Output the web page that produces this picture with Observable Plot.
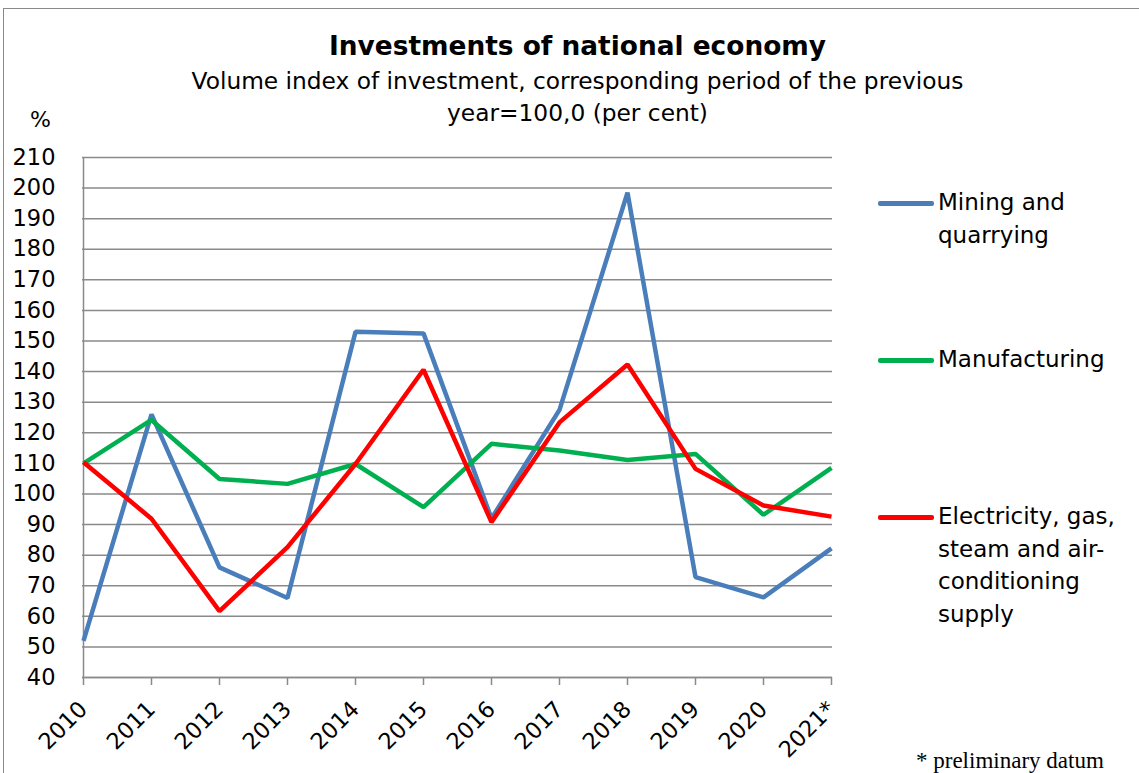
<!DOCTYPE html>
<html>
<head>
<meta charset="utf-8">
<script src="https://cdn.jsdelivr.net/npm/d3@7"></script>
<script src="https://cdn.jsdelivr.net/npm/@observablehq/plot@0.6"></script>
<style>
  html, body { margin: 0; padding: 0; background: #fff; }
  #wrap { position: relative; width: 1139px; height: 773px; overflow: hidden; font-family: "DejaVu Sans", Verdana, sans-serif; color: #000; }
  #frame { position: absolute; left: 3px; top: 8px; width: 1300px; height: 900px; border: 1.5px solid #8a8a8a; }
  #title { position: absolute; left: 0; width: 1155px; top: 30px; text-align: center; font-weight: bold; font-size: 26.4px; }
  #subtitle { position: absolute; left: 0; width: 1155px; top: 65px; text-align: center; font-size: 23.3px; line-height: 32px; }
  #pct { position: absolute; left: 30px; top: 107px; font-size: 22px; }
  #chart { position: absolute; left: 0; top: 0; }
  .leg { position: absolute; left: 878px; font-size: 23px; line-height: 32.5px; }
  .leg .sw { position: absolute; left: 0; width: 56px; height: 4.5px; border-radius: 2px; }
  .leg .tx { position: absolute; left: 60px; white-space: nowrap; }
  #note { position: absolute; left: 916px; top: 748px; font-family: "Liberation Serif", "Times New Roman", serif; font-size: 23px; }
</style>
</head>
<body>
<div id="wrap">
  <div id="frame"></div>
  <div id="chart"></div>
  <div id="title">Investments of national economy</div>
  <div id="subtitle">Volume index of investment, corresponding period of the previous<br>year=100,0 (per cent)</div>
  <div id="pct">%</div>
  <div id="legend"></div>
  <div id="note">* preliminary datum</div>
</div>
<script>
const years = ["2010","2011","2012","2013","2014","2015","2016","2017","2018","2019","2020","2021*"];
const mining = [52, 126, 76, 66, 153, 152.5, 92, 127.5, 198.5, 72.8, 66.2, 82.2];
const manufacturing = [110, 124.2, 104.9, 103.3, 109.8, 95.7, 116.4, 114.2, 111.1, 113.1, 93.2, 108.5];
const electricity = [110.4, 91.9, 61.7, 82.6, 109.8, 140.6, 90.8, 123.4, 142.3, 108.2, 96.2, 92.6];
const seriesNames = ["Mining and quarrying", "Manufacturing", "Electricity, gas, steam and air-conditioning supply"];
const legendLines = [["Mining and", "quarrying"], ["Manufacturing"], ["Electricity, gas,", "steam and air-", "conditioning", "supply"]];
const colors = ["#4a7ebb", "#00b050", "#ff0000"];
const yTicks = d3.range(40, 211, 10);

const seriesValues = [mining, manufacturing, electricity];
const data = [];
seriesNames.forEach((name, i) => {
  years.forEach((yr, j) => data.push({series: name, year: yr, value: seriesValues[i][j]}));
});

const chart = Plot.plot({
  width: 1139,
  height: 773,
  marginLeft: 82,
  marginRight: 307,
  marginTop: 157,
  marginBottom: 96,
  style: {fontFamily: "DejaVu Sans, Verdana, sans-serif", fontSize: "22.5px", background: "transparent", color: "#000", overflow: "visible"},
  x: {type: "point", domain: years, padding: 0},
  y: {domain: [40, 210]},
  color: {domain: seriesNames, range: colors},
  marks: [
    Plot.gridY(yTicks, {stroke: "#8a8a8a", strokeOpacity: 1, strokeWidth: 1.5}),
    Plot.ruleX([years[0]], {stroke: "#8a8a8a", strokeWidth: 1.5}),
    Plot.ruleY([40], {stroke: "#8a8a8a", strokeWidth: 1.5}),
    Plot.axisY(yTicks, {tickSize: 0, tickPadding: 27, label: null, fontSize: 22.5, fill: "#000"}),
    Plot.axisX({tickSize: 8, tickRotate: -45, tickPadding: 20, label: null, fontSize: 22.5, stroke: "#8a8a8a", strokeWidth: 1.5, fill: "#000"}),
    Plot.line(data, {x: "year", y: "value", z: "series", stroke: "series", strokeWidth: 4.5, strokeLinejoin: "miter", strokeLinecap: "butt"})
  ]
});
document.getElementById("chart").appendChild(chart);

const legendTops = [186, 343, 500];
const legend = document.getElementById("legend");
legendLines.forEach((lines, i) => {
  const d = document.createElement("div");
  d.className = "leg";
  d.style.top = legendTops[i] + "px";
  d.innerHTML = `<div class="sw" style="background:${colors[i]};top:15px"></div><div class="tx">${lines.join("<br>")}</div>`;
  legend.appendChild(d);
});
</script>
</body>
</html>
